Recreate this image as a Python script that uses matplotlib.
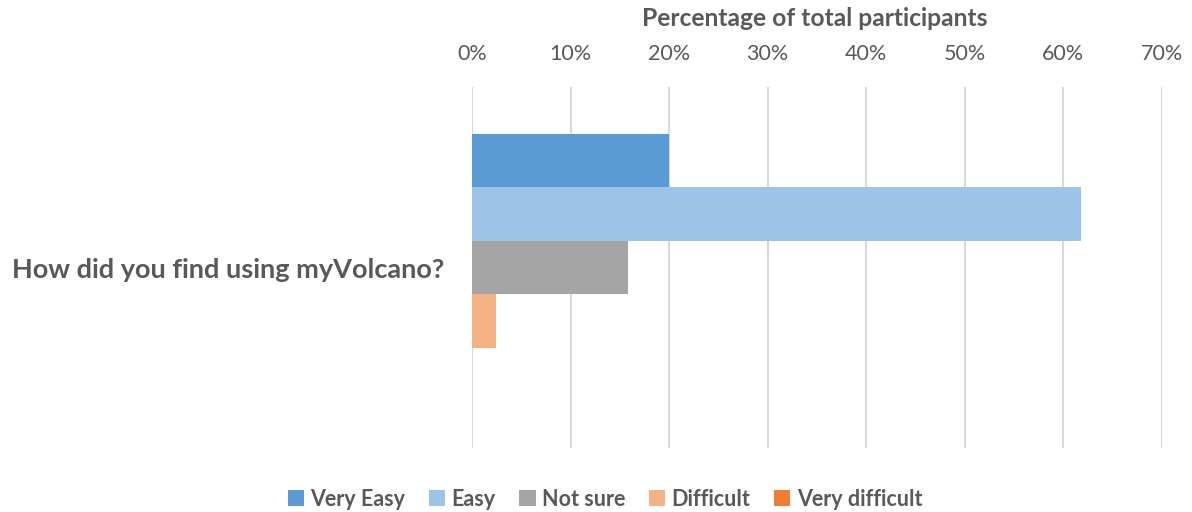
import matplotlib
matplotlib.use("Agg")
import matplotlib.pyplot as plt
from matplotlib.ticker import FuncFormatter, MultipleLocator

question = "How did you find using myVolcano?"
responses = ["Very Easy", "Easy", "Not sure", "Difficult", "Very difficult"]
percentages = [20.0, 61.8, 15.8, 2.4, 0.0]
colors = ["#5B9BD5", "#9DC3E6", "#A5A5A5", "#F4B183", "#ED7D31"]

plt.rcParams["font.family"] = ["Lato", "DejaVu Sans"]
text_color = "#595959"

fig = plt.figure(figsize=(11.92, 5.12), dpi=100)
ax = fig.add_axes([472 / 1192, 64 / 512, 690 / 1192, 361 / 512])

n = len(responses)
offsets = [i - (n - 1) / 2 for i in range(n)]
for off, label, val, col in zip(offsets, responses, percentages, colors):
    ax.barh(off, val, height=1.0, color=col, label=label, zorder=3)

half = 361 / 53.5 / 2
ax.set_ylim(half, -half)
ax.set_xlim(0, 70)
ax.xaxis.set_major_locator(MultipleLocator(10))
ax.xaxis.set_major_formatter(FuncFormatter(lambda v, p: f"{v:.0f}%"))
ax.xaxis.tick_top()
ax.tick_params(axis="x", length=0, labelsize=15.5, labelcolor=text_color, pad=16.5)

fig.text(815 / 1192, 1 - 18.5 / 512, "Percentage of total participants",
         ha="center", va="center", fontsize=17.7, fontweight="bold", color=text_color)

ax.set_yticks([0])
ax.set_yticklabels([question], fontsize=19.5, fontweight="bold", color=text_color)
ax.tick_params(axis="y", length=0, pad=20)

ax.grid(axis="x", color="#D9D9D9", linewidth=1.5, zorder=0)
for s in ax.spines.values():
    s.set_visible(False)

handles, labels = ax.get_legend_handles_labels()
leg = fig.legend(handles, labels, loc="center", bbox_to_anchor=(605 / 1192, 1 - 499 / 512),
                 ncol=5, frameon=False, handlelength=0.75, handleheight=0.75,
                 handletextpad=0.3, columnspacing=1.1,
                 prop={"size": 15.5, "weight": "bold"})
for t in leg.get_texts():
    t.set_color(text_color)

fig.savefig("out.png", dpi=100, facecolor="white")
